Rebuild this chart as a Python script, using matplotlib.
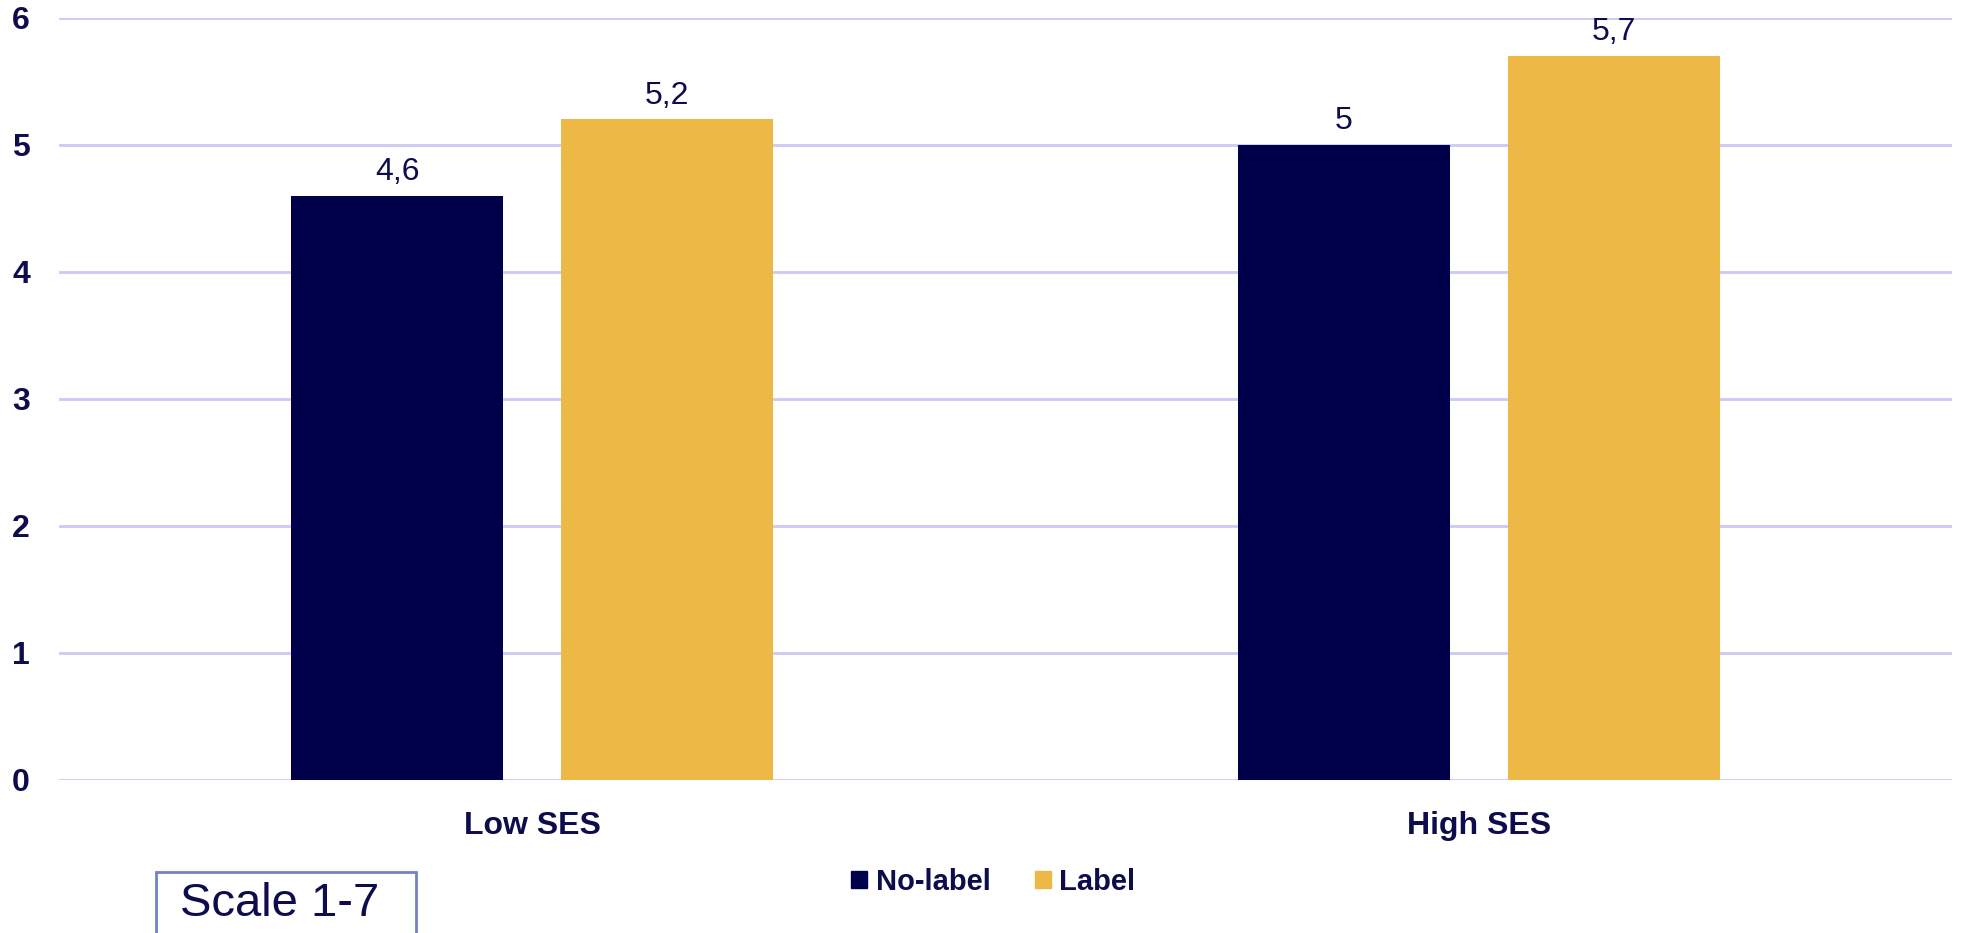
import matplotlib
matplotlib.use("Agg")
import matplotlib.pyplot as plt
import matplotlib.patches as mpatches
import numpy as np

# data
categories = ['Low SES', 'High SES']
no_label = [4.6, 5.0]
label = [5.2, 5.7]
no_label_txt = ['4,6', '5']
label_txt = ['5,2', '5,7']

navy = '#00004A'
yellow = '#EDB845'
text_col = '#0D0D4D'
grid_col = '#CACAF4'

plt.rcParams['font.family'] = ['Liberation Sans', 'DejaVu Sans']

fig = plt.figure(figsize=(19.67, 9.33), dpi=100)
ax = fig.add_axes([0.030, 0.164, 0.9624, 0.8171])

x = np.arange(len(categories))
w = 0.224
off = 0.1426
b1 = ax.bar(x - off, no_label, w, color=navy, label='No-label', zorder=3)
b2 = ax.bar(x + off, label, w, color=yellow, label='Label', zorder=3)

# value labels
for bars, txts in ((b1, no_label_txt), (b2, label_txt)):
    for r, t in zip(bars, txts):
        ax.annotate(t, (r.get_x() + r.get_width() / 2, r.get_height()),
                    xytext=(0, 6), textcoords='offset points',
                    ha='center', va='bottom', fontsize=23, color=text_col)

ax.set_xlim(-0.5, 1.5)
ax.set_ylim(0, 6)
ax.set_yticks(range(0, 7))
ax.set_xticks(x)
ax.set_xticklabels(categories)
ax.yaxis.grid(True, color=grid_col, linewidth=2, zorder=0)
ax.set_axisbelow(True)
for s in ax.spines.values():
    s.set_visible(False)
ax.tick_params(axis='both', length=0, labelsize=23, colors=text_col)
ax.tick_params(axis='y', pad=21)
ax.tick_params(axis='x', pad=22)
for lab in ax.get_xticklabels() + ax.get_yticklabels():
    lab.set_fontweight('bold')

# legend
handles = [mpatches.Patch(color=navy, label='No-label'),
           mpatches.Patch(color=yellow, label='Label')]
leg = fig.legend(handles=handles, loc='center', bbox_to_anchor=(0.505, 0.055),
                 ncol=2, frameon=False, handlelength=0.55, handleheight=0.55,
                 handletextpad=0.3, columnspacing=1.5,
                 prop={'size': 21, 'weight': 'bold'})
for t in leg.get_texts():
    t.set_color(text_col)

# "Scale 1-7" box
box = mpatches.Rectangle((156 / 1967, -0.02), 260 / 1967, 0.0853, transform=fig.transFigure,
                         facecolor='white', edgecolor='#7383C4', linewidth=2)
fig.patches.append(box)
fig.text(280 / 1967, 1 - 904 / 933, 'Scale 1-7', ha='center', va='center',
         fontsize=34, color=text_col)

fig.savefig('out.png', dpi=100)
